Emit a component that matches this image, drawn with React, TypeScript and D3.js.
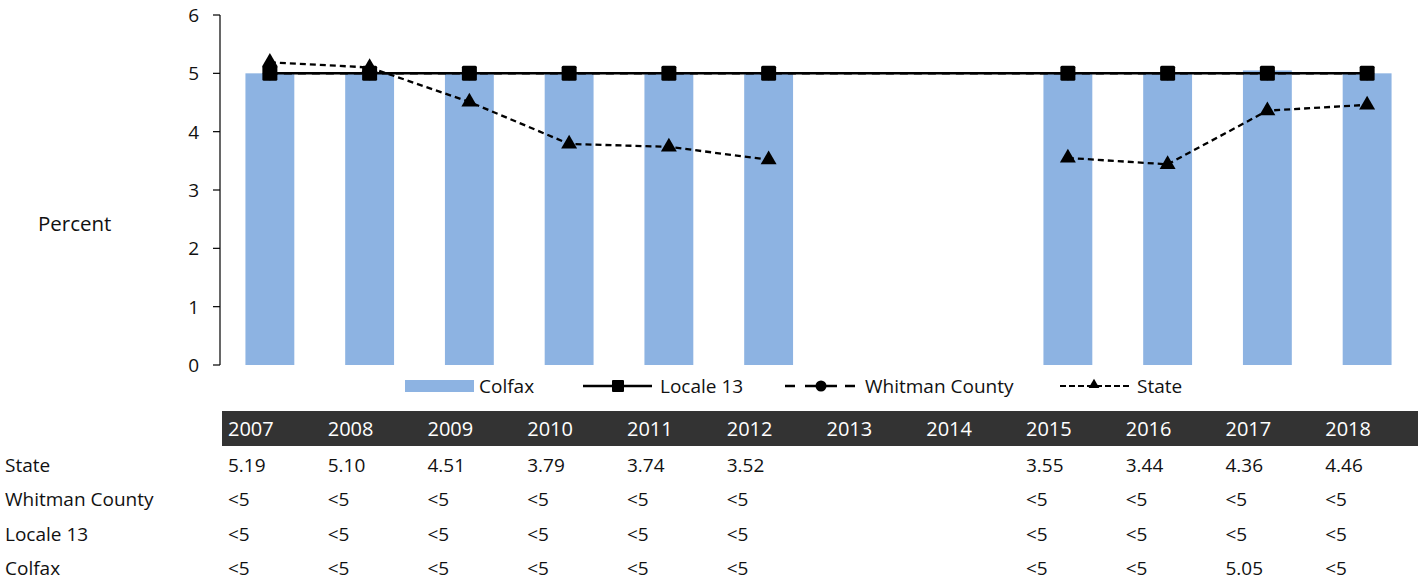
import React from 'react';
import * as d3 from 'd3';

const years = ['2007', '2008', '2009', '2010', '2011', '2012', '2013', '2014', '2015', '2016', '2017', '2018'];
const colfax: (number | null)[] = [5, 5, 5, 5, 5, 5, null, null, 5, 5, 5.05, 5];
const locale13: (number | null)[] = [5, 5, 5, 5, 5, 5, null, null, 5, 5, 5, 5];
const whitman: (number | null)[] = [5, 5, 5, 5, 5, 5, null, null, 5, 5, 5, 5];
const stateVals: (number | null)[] = [5.19, 5.10, 4.51, 3.79, 3.74, 3.52, null, null, 3.55, 3.44, 4.36, 4.46];

const stateLabels = ['5.19', '5.10', '4.51', '3.79', '3.74', '3.52', '', '', '3.55', '3.44', '4.36', '4.46'];
const whitmanLabels = ['<5', '<5', '<5', '<5', '<5', '<5', '', '', '<5', '<5', '<5', '<5'];
const localeLabels = ['<5', '<5', '<5', '<5', '<5', '<5', '', '', '<5', '<5', '<5', '<5'];
const colfaxLabels = ['<5', '<5', '<5', '<5', '<5', '<5', '', '', '<5', '<5', '5.05', '<5'];

const yTicks = [0, 1, 2, 3, 4, 5, 6];
const tableRows = [
  { name: 'State', labels: stateLabels },
  { name: 'Whitman County', labels: whitmanLabels },
  { name: 'Locale 13', labels: localeLabels },
  { name: 'Colfax', labels: colfaxLabels },
];

const FONT = "'Open Sans', sans-serif";
const BAR = '#8DB3E2';

export default function App() {
  const W = 1424, H = 581;
  const x = d3.scaleBand<string>().domain(years).range([220, 1417]).paddingInner(0.51).paddingOuter(0.255);
  const band = d3.scaleBand<string>().domain(years).range([220, 1417]);
  const y = d3.scaleLinear().domain([0, 6]).range([365, 15]);
  const cx = (i: number) => (x(years[i]) as number) + x.bandwidth() / 2;

  const pts = (vals: (number | null)[]) =>
    vals.map((v, i) => ({ i, v })).filter(d => d.v !== null) as { i: number; v: number }[];

  const lineConnected = d3.line<{ i: number; v: number }>().x(d => cx(d.i)).y(d => y(d.v));
  const lineGapped = d3
    .line<number | null>()
    .defined(d => d !== null)
    .x((_, i) => cx(i))
    .y(d => y(d as number));

  const tri = d3.symbol().type(d3.symbolTriangle).size(110)();
  const triSmall = d3.symbol().type(d3.symbolTriangle).size(50)();

  const LY = 386;

  return (
    <svg width={W} height={H} style={{ position: 'absolute', left: 0, top: 0 }} fontFamily={FONT}>
      {/* y axis */}
      <line x1={220} x2={220} y1={y(6)} y2={y(0)} stroke="#000" strokeWidth={1.2} />
      {yTicks.map(t => (
        <g key={t}>
          <line x1={213} x2={220} y1={y(t)} y2={y(t)} stroke="#000" strokeWidth={1.2} />
          <text x={199} y={y(t)} dy="0.36em" textAnchor="end" fontSize={19} fill="#111">{t}</text>
        </g>
      ))}
      <text x={38} y={224} dy="0.36em" fontSize={20.5} fill="#111">Percent</text>

      {/* bars */}
      {colfax.map((v, i) =>
        v === null ? null : (
          <rect key={i} x={x(years[i])} y={y(v)} width={x.bandwidth()} height={y(0) - y(v)} fill={BAR} />
        )
      )}

      {/* Whitman County */}
      <path d={lineConnected(pts(whitman)) || ''} fill="none" stroke="#000" strokeWidth={2.5} strokeDasharray="8,6" />
      {pts(whitman).map(d => (
        <circle key={'w' + d.i} cx={cx(d.i)} cy={y(d.v)} r={7} fill="#000" />
      ))}

      {/* Locale 13 */}
      <path d={lineConnected(pts(locale13)) || ''} fill="none" stroke="#000" strokeWidth={2.5} />
      {pts(locale13).map(d => (
        <rect key={'l' + d.i} x={cx(d.i) - 7.5} y={y(d.v) - 7.5} width={15} height={15} rx={1.5} fill="#000" />
      ))}

      {/* State */}
      <path d={lineGapped(stateVals) || ''} fill="none" stroke="#000" strokeWidth={2.3} strokeDasharray="6,4" />
      {pts(stateVals).map(d => (
        <path key={'s' + d.i} d={tri || ''} transform={`translate(${cx(d.i)},${y(d.v)})`} fill="#000" />
      ))}

      {/* legend */}
      <g fontSize={19} fill="#111">
        <rect x={405} y={380} width={69} height={12} fill={BAR} />
        <text x={479} y={LY} dy="0.36em">Colfax</text>

        <line x1={583} x2={652} y1={LY} y2={LY} stroke="#000" strokeWidth={2.5} />
        <rect x={612} y={LY - 6} width={12} height={12} rx={1} fill="#000" />
        <text x={660} y={LY} dy="0.36em">Locale 13</text>

        <line x1={785} x2={795} y1={LY} y2={LY} stroke="#000" strokeWidth={2.5} />
        <line x1={805} x2={837} y1={LY} y2={LY} stroke="#000" strokeWidth={2.5} />
        <line x1={845} x2={855} y1={LY} y2={LY} stroke="#000" strokeWidth={2.5} />
        <circle cx={821} cy={LY} r={5.5} fill="#000" />
        <text x={865} y={LY} dy="0.36em">Whitman County</text>

        <line x1={1060} x2={1130} y1={LY} y2={LY} stroke="#000" strokeWidth={2.2} strokeDasharray="6,3" />
        <path d={triSmall || ''} transform={`translate(1094,${LY - 1})`} fill="#000" />
        <text x={1137} y={LY} dy="0.36em">State</text>
      </g>

      {/* data table */}
      <rect x={222} y={411} width={1418 - 222} height={35} fill="#333333" />
      {years.map(yr => (
        <text key={yr} x={(band(yr) as number) + 8} y={429} dy="0.36em" fontSize={20} fill="#fff">{yr}</text>
      ))}
      {tableRows.map((row, r) => (
        <g key={row.name}>
          <text x={5} y={465 + r * 34.4} dy="0.36em" fontSize={19} fill="#111">{row.name}</text>
          {row.labels.map((lab, i) => (
            <text key={i} x={(band(years[i]) as number) + 8} y={465 + r * 34.4} dy="0.36em" fontSize={19} fill="#111">{lab}</text>
          ))}
        </g>
      ))}
    </svg>
  );
}
